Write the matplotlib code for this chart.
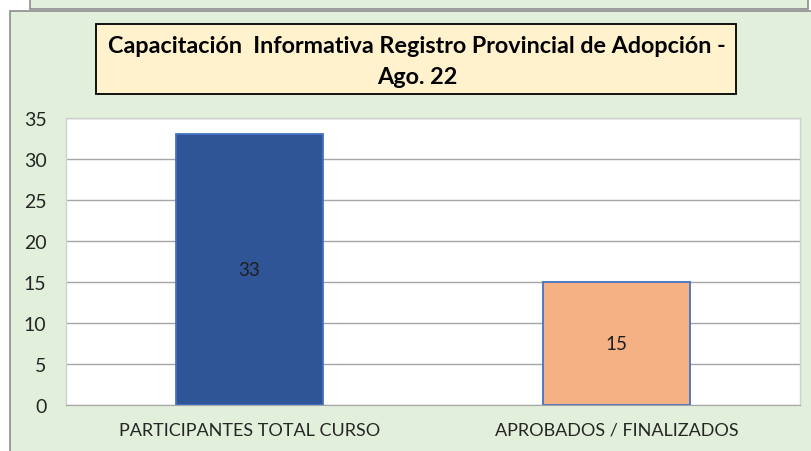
import matplotlib.pyplot as plt
from matplotlib.patches import Rectangle

categories = ['PARTICIPANTES TOTAL CURSO', 'APROBADOS / FINALIZADOS']
values = [33, 15]
bar_colors = ['#2F5597', '#F4B183']
y_ticks = [0, 5, 10, 15, 20, 25, 30, 35]

title = 'Capacitación  Informativa Registro Provincial de Adopción -\nAgo. 22'

plt.rcParams['font.family'] = ['Lato', 'DejaVu Sans']

W, H = 811, 452
fig = plt.figure(figsize=(W / 100, H / 100), dpi=100)
fig.patch.set_facecolor('white')

# strip of the chart above, cut off by the screenshot
fig.patches.append(Rectangle((30 / W, 1 - 10 / H), (808 - 30) / W, 20 / H,
                             transform=fig.transFigure, facecolor='#E2EFDA',
                             edgecolor='#8C8C8C', lw=1.2, zorder=-10))
# chart area background
fig.patches.append(Rectangle((10 / W, -0.05), 1.0, 1 - 12 / H + 0.05,
                             transform=fig.transFigure, facecolor='#E2EFDA',
                             edgecolor='#8C8C8C', lw=1.2, zorder=-10))
# title box
fig.patches.append(Rectangle((96 / W, 1 - 95 / H), (736 - 96) / W, 70 / H,
                             transform=fig.transFigure, facecolor='#FFF2CC',
                             edgecolor='black', lw=1.3, zorder=-5))

ax = fig.add_axes([66 / W, 1 - 406 / H, (800 - 66) / W, (406 - 119) / H])
ax.set_facecolor('white')

x = list(range(len(categories)))
bars = ax.bar(x, values, width=0.4, color=bar_colors, edgecolor='#4472C4',
              linewidth=1.3, zorder=3)

for b, v in zip(bars, values):
    ax.text(b.get_x() + b.get_width() / 2, v / 2, str(v), ha='center', va='center',
            fontsize=13.5, color='#1F1F1F', zorder=4)

ax.set_xlim(-0.5, 1.5)
ax.set_ylim(0, 35)
ax.set_yticks(y_ticks)
ax.set_xticks(x)
ax.set_xticklabels(categories)
ax.tick_params(axis='both', length=0, colors='#262626')
ax.tick_params(axis='y', pad=14, labelsize=14)
ax.tick_params(axis='x', pad=12, labelsize=13)

ax.grid(axis='y', color='#A6A6A6', lw=1.0, zorder=1)
for s in ['left', 'top', 'right']:
    ax.spines[s].set_color('#D0D0D0')
    ax.spines[s].set_linewidth(1.0)
ax.spines['bottom'].set_color('#A6A6A6')

fig.text(417 / W, 1 - 62 / H, title, ha='center', va='center', fontsize=16.8,
         fontweight='bold', color='black', linespacing=1.6)

fig.savefig('out.png', dpi=100)
